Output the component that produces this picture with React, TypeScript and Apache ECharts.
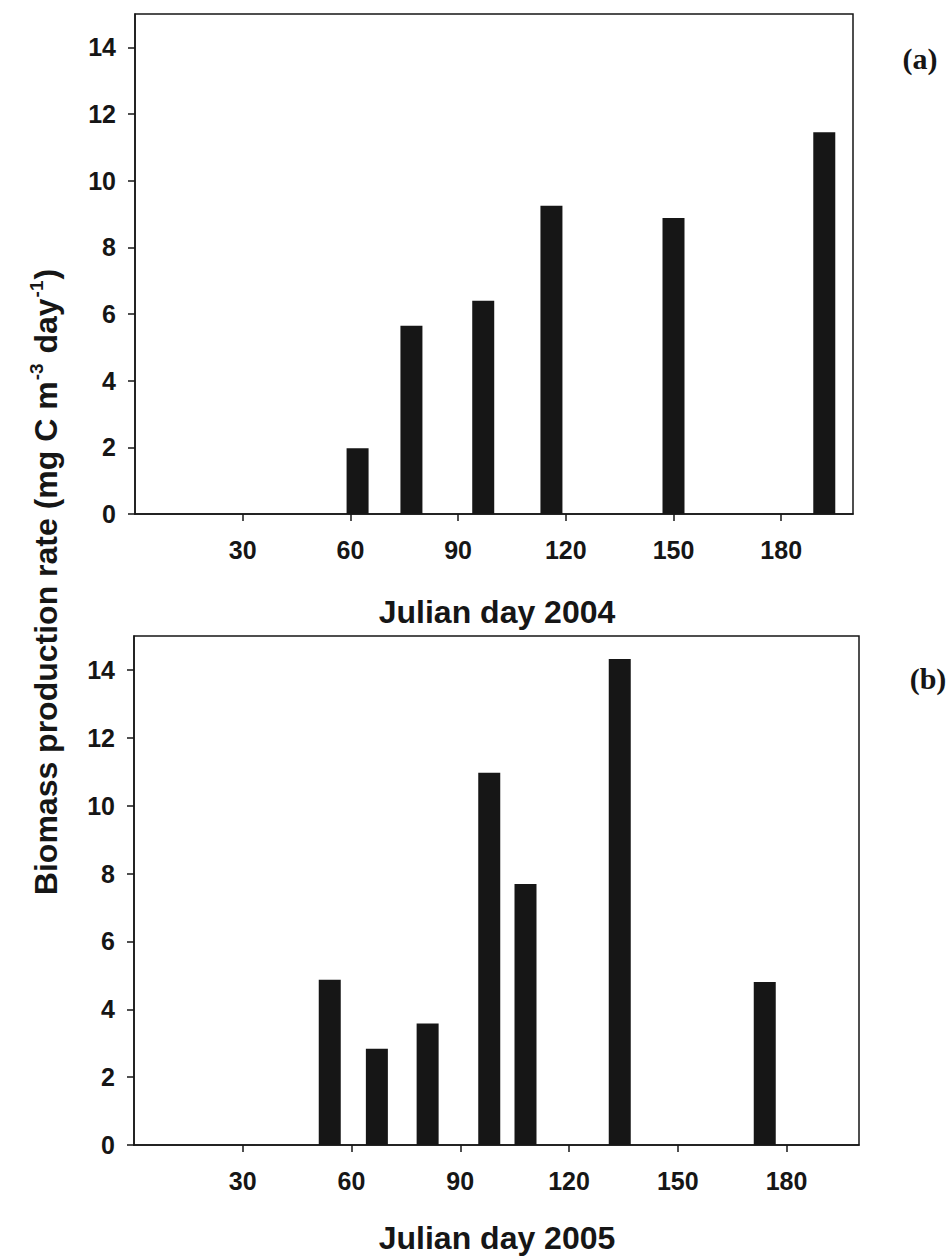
import React, { useEffect, useRef } from "react";
import * as echarts from "echarts";

// Panel (a): Julian day 2004
const days2004 = [62, 77, 97, 116, 150, 192];
const rates2004 = [1.97, 5.65, 6.4, 9.25, 8.88, 11.45];

// Panel (b): Julian day 2005
const days2005 = [54, 67, 81, 98, 108, 134, 174];
const rates2005 = [4.87, 2.84, 3.58, 10.97, 7.69, 14.32, 4.8];

const xTickValues = [30, 60, 90, 120, 150, 180];
const yTickValues = [0, 2, 4, 6, 8, 10, 12, 14];

const xTitleA = "Julian day 2004";
const xTitleB = "Julian day 2005";
const panelLabels = ["(a)", "(b)"];

const INK = "#161616";
const SANS = "'Liberation Sans', Arial, sans-serif";

function makeX(gridIndex: number) {
  return {
    type: "value",
    gridIndex,
    min: 0,
    max: 200,
    axisLine: { show: true, onZero: false, lineStyle: { color: INK, width: 1.5 } },
    axisTick: {
      show: true,
      inside: false,
      length: 7,
      customValues: xTickValues,
      lineStyle: { color: INK, width: 1.5 },
    },
    axisLabel: {
      show: true,
      customValues: xTickValues,
      margin: 23,
      color: INK,
      fontFamily: SANS,
      fontWeight: "bold",
      fontSize: 25,
    },
    splitLine: { show: false },
  };
}

function makeY(gridIndex: number) {
  return {
    type: "value",
    gridIndex,
    min: 0,
    max: 15,
    axisLine: { show: true, lineStyle: { color: INK, width: 1.5 } },
    axisTick: {
      show: true,
      inside: false,
      length: 7,
      customValues: yTickValues,
      lineStyle: { color: INK, width: 1.5 },
    },
    axisLabel: {
      show: true,
      customValues: yTickValues,
      margin: 19,
      color: INK,
      fontFamily: SANS,
      fontWeight: "bold",
      fontSize: 25,
    },
    splitLine: { show: false },
  };
}

export default function App() {
  const ref = useRef<HTMLDivElement>(null);

  useEffect(() => {
    if (!ref.current) return;
    const chart = echarts.init(ref.current, null, { renderer: "svg" });
    const option: any = {
      animation: false,
      backgroundColor: "#ffffff",
      grid: [
        {
          left: 135,
          top: 14,
          width: 718,
          height: 500,
          show: true,
          borderColor: INK,
          borderWidth: 1.5,
          backgroundColor: "transparent",
        },
        {
          left: 134,
          top: 636,
          width: 725,
          height: 509,
          show: true,
          borderColor: INK,
          borderWidth: 1.5,
          backgroundColor: "transparent",
        },
      ],
      xAxis: [makeX(0), makeX(1)],
      yAxis: [makeY(0), makeY(1)],
      series: [
        {
          type: "bar",
          xAxisIndex: 0,
          yAxisIndex: 0,
          barWidth: 22,
          itemStyle: { color: INK },
          data: days2004.map((d, i) => [d, rates2004[i]]),
        },
        {
          type: "bar",
          xAxisIndex: 1,
          yAxisIndex: 1,
          barWidth: 22,
          itemStyle: { color: INK },
          data: days2005.map((d, i) => [d, rates2005[i]]),
        },
      ],
      graphic: [
        {
          type: "text",
          x: 497,
          y: 612,
          style: {
            text: xTitleA,
            fill: INK,
            font: `bold 32px ${SANS}`,
            align: "center",
            verticalAlign: "middle",
          },
        },
        {
          type: "text",
          x: 497,
          y: 1238,
          style: {
            text: xTitleB,
            fill: INK,
            font: `bold 32px ${SANS}`,
            align: "center",
            verticalAlign: "middle",
          },
        },
        {
          type: "text",
          x: 46,
          y: 582,
          rotation: Math.PI / 2,
          style: {
            text: "Biomass production rate (mg C m{sup|-3} day{sup|-1})",
            fill: INK,
            fontFamily: SANS,
            fontWeight: "bold",
            fontSize: 32,
            lineHeight: 38,
            align: "center",
            verticalAlign: "middle",
            rich: {
              sup: {
                fontFamily: SANS,
                fontWeight: "bold",
                fontSize: 19,
                lineHeight: 19,
                verticalAlign: "top",
                fill: INK,
                padding: [0, 1, 0, 1],
              },
            },
          },
        },
        {
          type: "text",
          x: 920,
          y: 58,
          style: {
            text: panelLabels[0],
            fill: INK,
            font: "bold 30px 'Liberation Serif', 'Times New Roman', serif",
            align: "center",
            verticalAlign: "middle",
          },
        },
        {
          type: "text",
          x: 928,
          y: 678,
          style: {
            text: panelLabels[1],
            fill: INK,
            font: "bold 30px 'Liberation Serif', 'Times New Roman', serif",
            align: "center",
            verticalAlign: "middle",
          },
        },
      ],
    };
    chart.setOption(option);
    return () => chart.dispose();
  }, []);

  return (
    <div
      ref={ref}
      style={{ position: "absolute", left: 0, top: 0, width: 950, height: 1257 }}
    />
  );
}
